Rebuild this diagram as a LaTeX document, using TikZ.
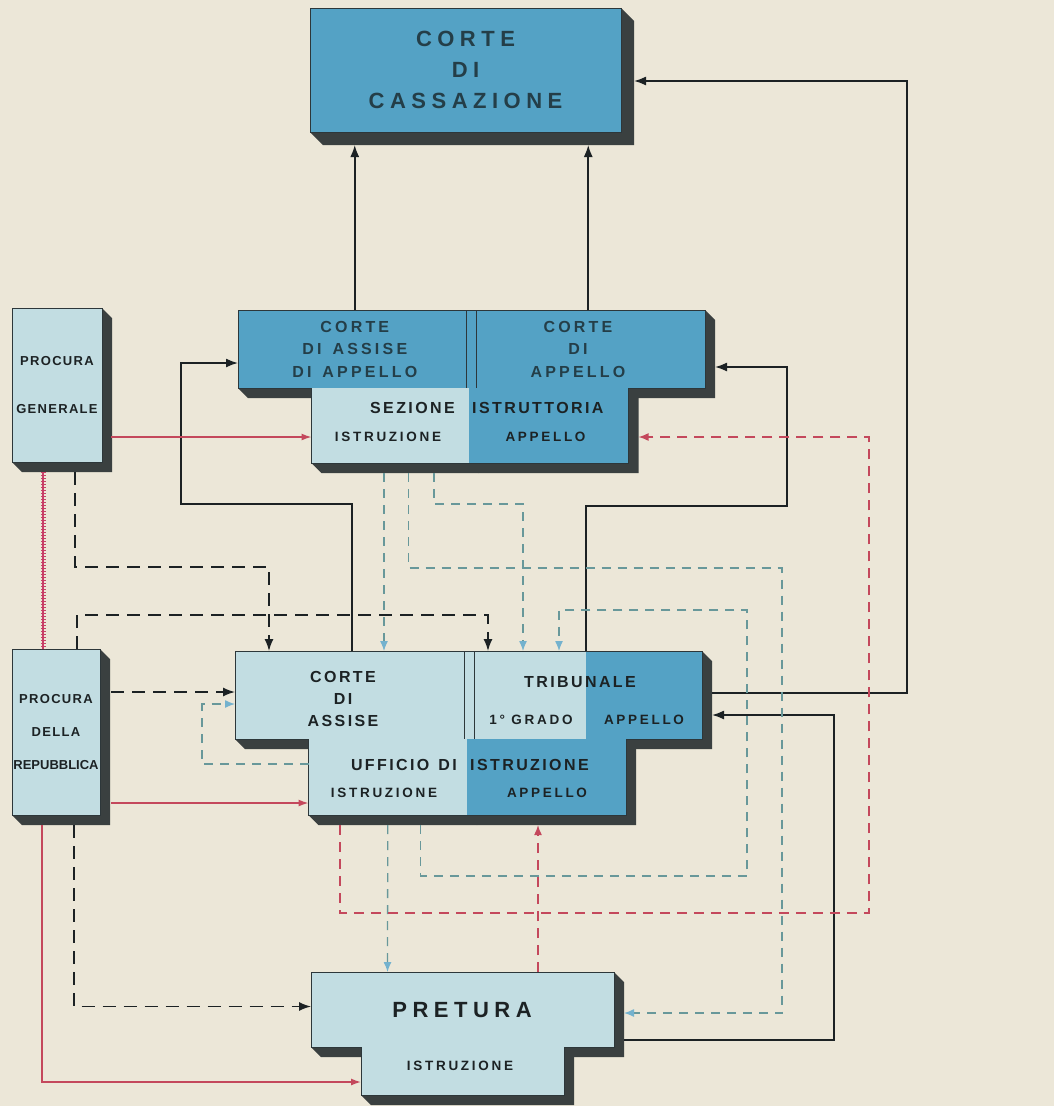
\documentclass[tikz,border=0pt]{standalone}
\usepackage{fontspec}
\setmainfont{Liberation Sans}
\newfontfamily\bigfont[LetterSpace=25]{Liberation Sans}
\newfontfamily\courtfont[LetterSpace=20]{Liberation Sans}
\newfontfamily\headfont[LetterSpace=15]{Liberation Sans}
\newfontfamily\smallfont[LetterSpace=20]{Liberation Sans}
\newfontfamily\procfont[LetterSpace=10]{Liberation Sans}
\newfontfamily\tightfont{Liberation Sans}
\usepackage{tikz}
\usetikzlibrary{arrows.meta,positioning,calc}

\definecolor{paper}{RGB}{236,231,216}
\definecolor{courtblue}{RGB}{84,162,197}
\definecolor{paleblue}{RGB}{194,221,226}
\definecolor{shadowgrey}{RGB}{58,64,64}
\definecolor{edge}{RGB}{45,55,58}
\definecolor{ink}{RGB}{28,34,36}
\definecolor{inkblue}{RGB}{36,62,72}
\definecolor{redline}{RGB}{196,72,92}
\definecolor{railred}{RGB}{200,64,104}
\definecolor{tealline}{RGB}{104,152,154}
\definecolor{tealtip}{RGB}{116,178,206}

\pgfdeclarelayer{paper}
\pgfdeclarelayer{depth}
\pgfsetlayers{paper,depth,main}

\tikzset{
    courtbox/.style={inner sep=0pt, outer sep=0pt, align=center, text=ink},
    darkbox/.style={courtbox, fill=courtblue, text=inkblue},
    lightbox/.style={courtbox, fill=paleblue},
    outline/.style={draw=edge, line width=0.6pt},
    divider/.style={draw=edge, line width=0.8pt},
    bigtext/.style={font=\bigfont\bfseries\fontsize{22}{31}\selectfont, align=center, text=inkblue},
    courttext/.style={font=\courtfont\bfseries\fontsize{16}{22.5}\selectfont, align=center, inner sep=0pt, text=inkblue},
    headtext/.style={font=\headfont\bfseries\fontsize{16}{22}\selectfont, align=center, inner sep=0pt, text=ink},
    smalltext/.style={font=\smallfont\bfseries\fontsize{13.5}{16}\selectfont, inner sep=0pt, text=ink},
    proctext/.style={font=\procfont\bfseries\fontsize{13}{33}\selectfont, align=center},
    solidflow/.style={draw=ink, line width=1.6pt, -{Latex[length=12pt,width=9pt]}},
    darkdash/.style={solidflow, line width=1.5pt, dash pattern=on 13pt off 8pt},
    tealdash/.style={draw=tealline, line width=1.3pt, dash pattern=on 9pt off 7pt, -{Latex[length=10pt,width=8pt,color=tealtip]}},
    reddash/.style={draw=redline, line width=1.5pt, dash pattern=on 10pt off 7pt, -{Latex[length=10pt,width=8pt]}},
    redflow/.style={draw=redline, line width=1.4pt, -{Latex[length=10pt,width=7pt]}},
    railline/.style={draw=railred, line width=1.6pt, postaction={draw=railred, line width=5pt, dash pattern=on 1.4pt off 1.6pt}},
    depthfill/.style={fill=shadowgrey}
}

% extruded depth of a box, lower right
\newcommand{\castshadow}[2][10]{%
    \begin{pgfonlayer}{depth}
        \fill[depthfill] (#2.north east) -- ++(#1,#1) -- ($(#2.south east)+(#1,#1)$)
            -- ($(#2.south west)+(#1,#1)$) -- (#2.south west) -- cycle;
    \end{pgfonlayer}}

\begin{document}
\begin{tikzpicture}[x=1pt, y=-1pt]
    \begin{pgfonlayer}{paper}
        \fill[paper] (0,0) rectangle (1054,1106);
    \end{pgfonlayer}

    % courts
    \node[darkbox, draw=edge, line width=0.6pt, anchor=north west, minimum width=311pt, minimum height=124pt, bigtext] (cass) at (310,8) {CORTE\\DI\\CASSAZIONE};
    \node[darkbox, anchor=north west, minimum width=233.5pt, minimum height=78pt, courttext] (assapp) at (238,310) {CORTE\\DI\hspace{11pt}ASSISE\\DI\hspace{11pt}APPELLO};
    \node[darkbox, minimum width=233.5pt, minimum height=78pt, right=0pt of assapp] (app) {};
    \node[lightbox, anchor=north west, minimum width=157pt, minimum height=75pt] (sez) at (311.5,388) {};
    \node[darkbox, minimum width=160pt, minimum height=75pt, right=0pt of sez] (sezapp) {};

    \node[lightbox, anchor=north west, minimum width=234pt, minimum height=88pt] (assise) at (235,651) {};
    \node[lightbox, minimum width=117pt, minimum height=88pt, right=0pt of assise] (trib1) {};
    \node[darkbox, minimum width=116pt, minimum height=88pt, right=0pt of trib1] (trib2) {};
    \node[lightbox, anchor=north west, minimum width=158.5pt, minimum height=76pt] (uff) at (308.5,739) {};
    \node[darkbox, minimum width=159pt, minimum height=76pt, right=0pt of uff] (uffapp) {};

    \node[lightbox, anchor=north west, minimum width=303pt, minimum height=75pt] (pret) at (311,972) {};
    \node[lightbox, minimum width=203pt, minimum height=48pt, below=0pt of pret] (pretlow) {};

    % procure
    \node[lightbox, draw=edge, line width=0.6pt, anchor=north west, minimum width=90pt, minimum height=154pt, proctext] (pg) at (12,308) {PROCURA\\[15pt]GENERALE};
    \node[lightbox, draw=edge, line width=0.6pt, anchor=north west, minimum width=88pt, minimum height=166pt, proctext] (pr) at (12,649) {PROCURA\\DELLA\\{\tightfont REPUBBLICA}};

    \castshadow[13]{cass}
    \castshadow{assapp} \castshadow{app} \castshadow{sez} \castshadow{sezapp}
    \castshadow{assise} \castshadow{trib1} \castshadow{trib2} \castshadow{uff} \castshadow{uffapp}
    \castshadow{pret} \castshadow{pretlow}
    \castshadow{pg} \castshadow{pr}

    \draw[outline] (assapp.north west) -| (app.south east) -| (sezapp.south east) -| (sez.north west) -| (assapp.north west) -- cycle;
    \draw[outline] (assise.north west) -| (trib2.south east) -| (uffapp.south east) -| (uff.north west) -| (assise.north west) -- cycle;
    \draw[outline] (pret.north west) -| (pret.south east) -| (pretlow.south east) -| (pretlow.north west) -| (pret.north west) -- cycle;
    \draw[divider] ($(assapp.north east)+(-5.5,0)$) -- ($(assapp.south east)+(-5.5,0)$);
    \draw[divider] ($(app.north west)+(4.5,0)$) -- ($(app.south west)+(4.5,0)$);
    \draw[divider] ($(assise.north east)+(-5,0)$) -- ($(assise.south east)+(-5,0)$);
    \draw[divider] ($(trib1.north west)+(5,0)$) -- ($(trib1.south west)+(5,0)$);

    % labels
    \node[courttext] (apptext) at (578,349) {CORTE\\DI\\APPELLO};
    \node[headtext, anchor=east] (sezhead) at (455,408) {SEZIONE};
    \node[headtext, anchor=west] (istrhead) at (472,408) {ISTRUTTORIA};
    \node[smalltext] (sezrow) at (388,437) {ISTRUZIONE};
    \node[smalltext] (sezapprow) at (545.5,437) {APPELLO};
    \node[headtext] (assisetext) at (343,699) {CORTE\\DI\\ASSISE};
    \node[headtext] (tribhead) at (580,682) {TRIBUNALE};
    \node[smalltext] (gradotext) at (531,720) {1° GRADO};
    \node[smalltext] (tribapp) at (644,720) {APPELLO};
    \node[headtext, anchor=east] (uffhead) at (457,765) {UFFICIO\hspace{9pt}DI};
    \node[headtext, anchor=west] (uffistr) at (470,765) {ISTRUZIONE};
    \node[smalltext] (uffrow) at (384,793) {ISTRUZIONE};
    \node[smalltext] (uffapprow) at (547,793) {APPELLO};
    \node[bigtext, text=ink] (prettext) at (462,1010) {PRETURA};
    \node[smalltext] (pretrow) at (460,1066) {ISTRUZIONE};

    \coordinate (cassfoot) at ($(cass.south)+(0,13)$);

    % ricorsi
    \draw[solidflow] (assapp.north) -- (assapp.north |- cassfoot);
    \draw[solidflow] (app.north) -- (app.north |- cassfoot);
    \draw[solidflow] ($(trib2.east)+(10,-2)$) -- ++(195,0) |- ($(cass.east)+(13,11)$);
    \draw[solidflow] (assise.north) |- (181,504) |- ($(assapp.west)+(0,14)$);
    \draw[solidflow] (trib2.north west) |- (787,506) |- ($(app.east)+(10,18)$);
    \draw[solidflow] ($(pret.east)+(10,30.5)$) -| (834,715) -- ($(trib2.east)+(10,20)$);

    % procure
    \draw[railline] ($(pg.south)+(-14,10)$) -- ($(pr.north)+(-13,0)$);
    \draw[redflow] ($(pg.east)+(9,52)$) -- ($(sez.west)+(0,11.5)$);
    \draw[redflow] ($(pr.east)+(11,71)$) -- ($(uff.west)+(0,26)$);
    \draw[redflow] ($(pr.south)+(-14,10)$) |- ($(pretlow.west)+(0,11)$);
    \draw[darkdash] ($(pg.south)+(18,10)$) |- (269,567) -| ($(assise.north west)+(34,0)$);
    \draw[darkdash] ($(pr.north)+(21,0)$) |- (488,615) -| ($(trib1.north west)+(19,0)$);
    \draw[darkdash] ($(pr.east)+(11,-40)$) -- ($(assise.west)+(0,-3)$);
    \draw[darkdash] ($(pr.south)+(18,10)$) |- ($(pret.west)+(0,-3)$);

    % istruzione
    \draw[tealdash] ($(sez.south)+(-6,10)$) -- ($(assise.north)+(32,0)$);
    \draw[tealdash] ($(sez.south)+(18.5,10)$) |- (782,568) |- ($(pret.east)+(10,3.5)$);
    \draw[tealdash] ($(sez.south)+(44,10)$) |- (523,504) -| ($(trib1.north west)+(54,0)$);
    \draw[tealdash] ($(uff.south)+(33,10)$) |- (747,876) |- (559,610) -| ($(trib1.north west)+(90,0)$);
    \draw[tealdash] ($(uff.west)+(0,-13)$) -| (202,704) -- ($(assise.west)+(0,9)$);
    \draw[tealdash] ($(uff.south)+(0,10)$) -- ($(pret.north)+(-75,0)$);
    \draw[reddash] ($(uff.south)+(-48,10)$) |- (869,913) |- ($(sezapp.east)+(10,11.5)$);
    \draw[reddash] ($(pret.north)+(75.5,0)$) -- ($(uffapp.south)+(-8.5,10)$);
\end{tikzpicture}
\end{document}
